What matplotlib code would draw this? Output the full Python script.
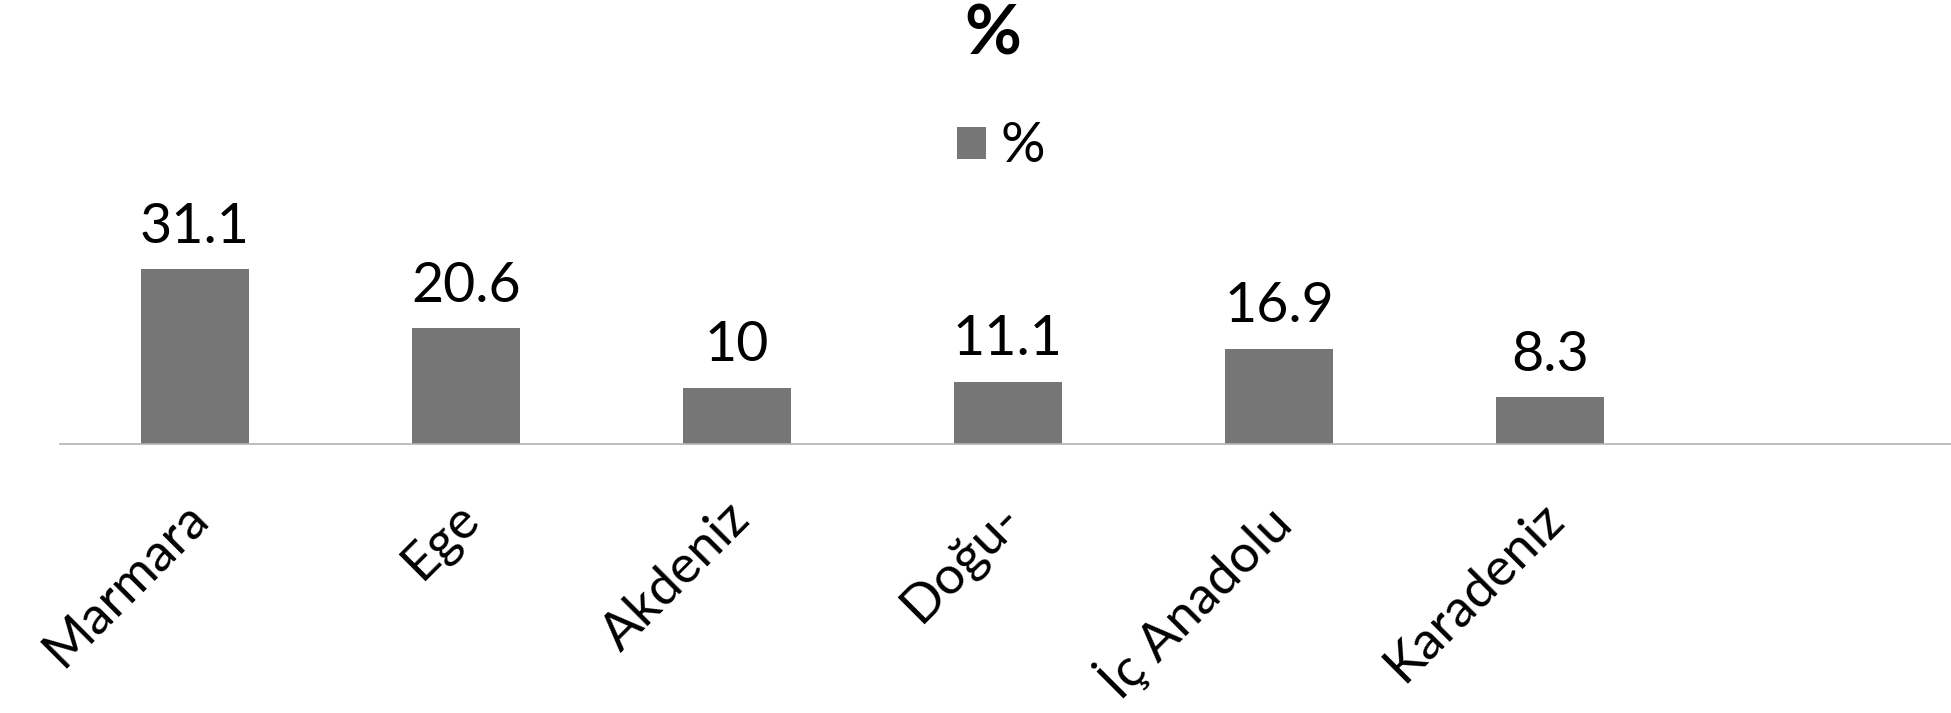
import matplotlib
matplotlib.use("Agg")
import matplotlib.pyplot as plt
import matplotlib.transforms as mtransforms
import numpy as np

plt.rcParams['font.family'] = ['Lato', 'DejaVu Sans']

# regions (last slot is empty in the original chart)
categories = ["Marmara", "Ege", "Akdeniz", "Doğu-", "İç Anadolu", "Karadeniz", ""]
values = [31.1, 20.6, 10, 11.1, 16.9, 8.3]
series_name = "%"
bar_color = "#767676"

W, H = 1951, 713
fig = plt.figure(figsize=(W / 100, H / 100), dpi=100)

# axes placed in pixel terms: baseline at y=444, 271 px per category
left = 59.5 / W
bottom = (H - 444) / H
width = 7 * 271 / W
height = 40 * 5.63 / H
ax = fig.add_axes([left, bottom, width, height])

x = np.arange(len(values))
bars = ax.bar(x, values, width=0.4, color=bar_color, label=series_name, zorder=2)

for xi, v in zip(x, values):
    ax.annotate(f"{v:g}", (xi, v), xytext=(0, 19), textcoords="offset points",
                ha="center", va="baseline", fontsize=40, color="black",
                annotation_clip=False)

ax.set_xlim(-0.5, len(categories) - 0.5)
ax.set_ylim(0, 40)
ax.set_xticks(np.arange(len(categories)))
ax.set_xticklabels(categories, rotation=45, ha="right", va="top", fontsize=38)
ax.tick_params(axis="x", length=0, pad=36)
ax.set_yticks([])

offset = mtransforms.ScaledTranslation(0.22, 0, fig.dpi_scale_trans)
for lab in ax.get_xticklabels():
    lab.set_transform(lab.get_transform() + offset)

for side in ["top", "right", "left"]:
    ax.spines[side].set_visible(False)
ax.spines["bottom"].set_color("#b3b3b3")
ax.spines["bottom"].set_linewidth(1.2)
ax.patch.set_alpha(0)

fig.text(993 / W, 1 - 35 / H, "%", ha="center", va="center",
         fontsize=50, fontweight="bold")

fig.legend(handles=[bars], labels=[series_name], loc="center",
           bbox_to_anchor=(1001 / W, 1 - 147 / H), frameon=False,
           fontsize=40, handlelength=0.52, handleheight=0.52,
           handletextpad=0.25, borderpad=0, borderaxespad=0)

fig.savefig("out.png", dpi=100)
